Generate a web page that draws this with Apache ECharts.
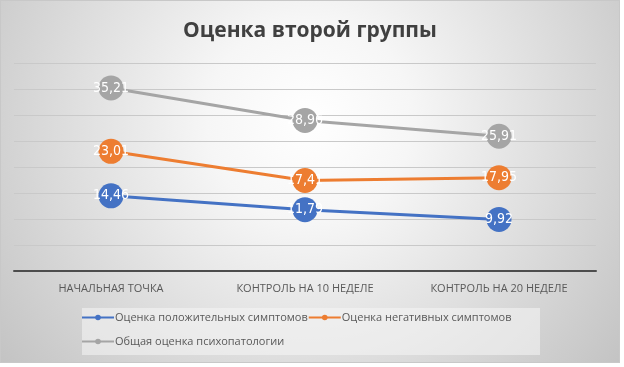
<!DOCTYPE html>
<html>
<head>
<meta charset="utf-8">
<script src="https://cdn.jsdelivr.net/npm/echarts@6/dist/echarts.min.js"></script>
<style>
  html, body { margin: 0; padding: 0; background: #fff; }
  #chart { width: 618px; height: 361px; border: 1px solid #c8c8c8; }
</style>
</head>
<body>
<div id="chart"></div>
<script>
// категории по оси X
var categories = ['НАЧАЛЬНАЯ ТОЧКА', 'КОНТРОЛЬ НА 10 НЕДЕЛЕ', 'КОНТРОЛЬ НА 20 НЕДЕЛЕ']
var seriesNames = ['Оценка положительных симптомов', 'Оценка негативных симптомов', 'Общая оценка психопатологии']
var positiveScores = [14.46, 11.79, 9.92]
var negativeScores = [23.01, 17.41, 17.95]
var generalScores = [35.21, 28.96, 25.91]
var colors = ['#4472C4', '#ED7D31', '#A5A5A5']

var font = '"Open Sans", "Noto Sans", sans-serif'
var narrowFont = '"Liberation Sans Narrow", "DejaVu Sans Condensed", sans-serif'

function makeSeries (name, data, color) {
  return {
    name: name,
    type: 'line',
    data: data,
    symbol: 'circle',
    symbolSize: 25,
    lineStyle: { width: 3, color: color },
    itemStyle: { color: color },
    label: {
      show: true,
      position: 'inside',
      color: '#fff',
      fontSize: 14,
      fontFamily: narrowFont,
      formatter: function (p) {
        return p.value.toFixed(2).replace('.', ',')
      }
    },
    z: 3
  }
}

var legendText = { fontSize: 11, color: '#595959', fontFamily: font, padding: [0, 0, 0, -4] }

var chart = echarts.init(document.getElementById('chart'))
chart.setOption({
  backgroundColor: {
    type: 'radial',
    x: 0.5,
    y: 0.33,
    r: 1.14,
    colorStops: [
      { offset: 0, color: '#ffffff' },
      { offset: 0.25, color: '#f6f6f6' },
      { offset: 1, color: '#c0c0c0' }
    ]
  },
  color: colors,
  title: {
    text: 'Оценка второй группы',
    left: 'center',
    top: 15,
    textStyle: {
      fontSize: 21,
      fontWeight: 'bold',
      color: '#404040',
      fontFamily: font
    }
  },
  graphic: [{
    // подложка легенды
    type: 'rect',
    shape: { x: 81, y: 307, width: 458, height: 47 },
    style: { fill: 'rgba(245,245,245,0.55)' },
    silent: true,
    z: -1
  }],
  legend: [{
    data: [seriesNames[0], seriesNames[1]],
    left: 80,
    top: 311,
    padding: 0,
    itemGap: 0,
    itemWidth: 32,
    itemHeight: 7,
    textStyle: legendText
  }, {
    data: [seriesNames[2]],
    left: 80,
    top: 335,
    padding: 0,
    itemGap: 0,
    itemWidth: 32,
    itemHeight: 7,
    textStyle: legendText
  }],
  grid: {
    left: 13,
    right: 23,
    top: 62,
    bottom: 91,
    containLabel: false
  },
  xAxis: {
    type: 'category',
    data: categories,
    axisTick: { show: false },
    axisLine: { lineStyle: { color: '#4d4d4d', width: 2 } },
    axisLabel: { fontSize: 11, color: '#595959', margin: 12, fontFamily: font }
  },
  yAxis: {
    type: 'value',
    min: 0,
    max: 40,
    interval: 5,
    axisLabel: { show: false },
    axisLine: { show: false },
    axisTick: { show: false },
    splitLine: { lineStyle: { color: '#c9c9c9', width: 1 } }
  },
  series: [
    makeSeries(seriesNames[0], positiveScores, colors[0]),
    makeSeries(seriesNames[1], negativeScores, colors[1]),
    makeSeries(seriesNames[2], generalScores, colors[2])
  ]
})
</script>
</body>
</html>
